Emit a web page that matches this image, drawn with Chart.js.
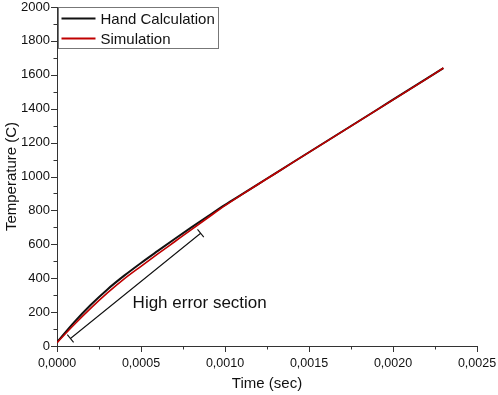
<!DOCTYPE html>
<html>
<head>
<meta charset="utf-8">
<script src="https://cdn.jsdelivr.net/npm/chart.js@4/dist/chart.umd.min.js"></script>
<style>
html, body { margin: 0; padding: 0; background: #fff; }
#wrap { width: 498px; height: 395px; }
</style>
</head>
<body>
<div id="wrap"><canvas id="myChart"></canvas></div>
<script>
// time in seconds
const timeSec = [0, 0.0001, 0.0002, 0.0003, 0.0004, 0.0005, 0.0006, 0.0007, 0.0008, 0.0009, 0.0010,
    0.0011, 0.0012, 0.0013, 0.0014, 0.0015, 0.0016, 0.0017, 0.0018, 0.0019, 0.0020, 0.0021, 0.0022, 0.0023];
const handCalc = [22, 138, 242, 334, 415, 490, 561, 631, 700, 767, 833,
    895, 957, 1019, 1081, 1143, 1205, 1267, 1329, 1391, 1453, 1515, 1577, 1639];
const simulation = [20, 124, 222, 313, 396, 470, 543, 615, 687, 758, 828,
    893, 956, 1018, 1080, 1142, 1204, 1266, 1328, 1390, 1452, 1514, 1576, 1640];

const xTicks = [0, 0.0005, 0.0010, 0.0015, 0.0020, 0.0025];
const yTicks = [0, 200, 400, 600, 800, 1000, 1200, 1400, 1600, 1800, 2000];

// "High error section" bracket (time, temperature)
const bracketFrom = [0.00008, 44];
const bracketTo = [0.000855, 665];
const noteText = "High error section";
const notePos = [0.00045, 223];

const FONT = "'Liberation Sans', Arial, sans-serif";

function toPoints(xs, ys) {
    var result = [];
    for (var i = 0; i < xs.length; i++) result[i] = { x: xs[i], y: ys[i] };
    return result;
}

const extras = {
    id: "extras",
    afterDraw(chart) {
        const ctx = chart.ctx;
        const xs = chart.scales.x;
        const ys = chart.scales.y;
        const area = chart.chartArea;
        ctx.save();

        // major + minor ticks, outside
        ctx.strokeStyle = "#333";
        ctx.lineWidth = 1;
        ctx.beginPath();
        for (let i = 0; i < xTicks.length; i++) {
            let px = Math.round(xs.getPixelForValue(xTicks[i])) + 0.5;
            ctx.moveTo(px, area.bottom); ctx.lineTo(px, area.bottom + 6);
            if (i < xTicks.length - 1) {
                let mx = Math.round(xs.getPixelForValue((xTicks[i] + xTicks[i + 1]) / 2)) + 0.5;
                ctx.moveTo(mx, area.bottom); ctx.lineTo(mx, area.bottom + 3.5);
            }
        }
        for (let i = 0; i < yTicks.length; i++) {
            let py = Math.round(ys.getPixelForValue(yTicks[i])) + 0.5;
            ctx.moveTo(area.left, py); ctx.lineTo(area.left - 6, py);
            if (i < yTicks.length - 1) {
                let my = Math.round(ys.getPixelForValue((yTicks[i] + yTicks[i + 1]) / 2)) + 0.5;
                ctx.moveTo(area.left, my); ctx.lineTo(area.left - 3.5, my);
            }
        }
        ctx.stroke();

        // bracket
        const x1 = xs.getPixelForValue(bracketFrom[0]), y1 = ys.getPixelForValue(bracketFrom[1]);
        const x2 = xs.getPixelForValue(bracketTo[0]), y2 = ys.getPixelForValue(bracketTo[1]);
        const len = Math.hypot(x2 - x1, y2 - y1);
        const nx = -(y2 - y1) / len * 5, ny = (x2 - x1) / len * 5;
        ctx.strokeStyle = "#111";
        ctx.lineWidth = 1.1;
        ctx.beginPath();
        ctx.moveTo(x1, y1); ctx.lineTo(x2, y2);
        ctx.moveTo(x1 - nx, y1 - ny); ctx.lineTo(x1 + nx, y1 + ny);
        ctx.moveTo(x2 - nx, y2 - ny); ctx.lineTo(x2 + nx, y2 + ny);
        ctx.stroke();

        ctx.fillStyle = "#111";
        ctx.font = "17px " + FONT;
        ctx.textAlign = "left";
        ctx.textBaseline = "alphabetic";
        ctx.fillText(noteText, xs.getPixelForValue(notePos[0]), ys.getPixelForValue(notePos[1]));

        // legend box
        const lx = area.left + 1.5, ly = area.top + 0.5, lw = 160, lh = 41;
        ctx.fillStyle = "#fff";
        ctx.fillRect(lx, ly, lw, lh);
        ctx.strokeStyle = "#777";
        ctx.lineWidth = 1;
        ctx.strokeRect(lx, ly, lw, lh);
        ctx.font = "15px " + FONT;
        ctx.textBaseline = "middle";
        chart.data.datasets.forEach(function(ds, i) {
            let yy = ly + 11 + i * 20;
            ctx.strokeStyle = ds.borderColor;
            ctx.lineWidth = 2;
            ctx.beginPath();
            ctx.moveTo(lx + 3, yy); ctx.lineTo(lx + 37, yy);
            ctx.stroke();
            ctx.fillStyle = "#111";
            ctx.fillText(ds.label, lx + 42, yy + 1);
        });
        ctx.restore();
    }
};

const ctx = document.getElementById("myChart").getContext("2d");
const myChart = new Chart(ctx, {
    type: "line",
    data: {
        datasets: [{
            label: "Hand Calculation",
            data: toPoints(timeSec, handCalc),
            borderColor: "#111111",
            borderWidth: 2,
            pointRadius: 0,
            cubicInterpolationMode: "monotone",
            order: 2,
        }, {
            label: "Simulation",
            data: toPoints(timeSec, simulation),
            borderColor: "#c00000",
            borderWidth: 1.6,
            pointRadius: 0,
            cubicInterpolationMode: "monotone",
            order: 1,
        }],
    },
    options: {
        responsive: true,
        maintainAspectRatio: false,
        animation: false,
        layout: { padding: { left: 0, right: 21, top: 7, bottom: 0 } },
        plugins: {
            legend: { display: false },
            tooltip: { enabled: false },
        },
        scales: {
            x: {
                type: "linear",
                min: 0,
                max: 0.0025,
                afterFit: function(s) { s.height = 49; s.paddingLeft = 0; s.paddingRight = 0; },
                afterBuildTicks: function(s) { s.ticks = xTicks.map(v => ({ value: v })); },
                grid: { display: false },
                border: { display: true, color: "#333", width: 1 },
                ticks: {
                    padding: 2,
                    color: "#111",
                    font: { family: FONT, size: 12.5 },
                    maxRotation: 0,
                    callback: function(v) { return v.toFixed(4).replace(".", ","); },
                },
                title: {
                    display: true,
                    text: "Time (sec)",
                    color: "#111",
                    font: { family: FONT, size: 15 },
                    padding: { top: 0, bottom: 2 },
                },
            },
            y: {
                min: 0,
                max: 2000,
                afterFit: function(s) { s.width = 57; s.paddingTop = 0; s.paddingBottom = 0; },
                afterBuildTicks: function(s) { s.ticks = yTicks.map(v => ({ value: v })); },
                grid: { display: false },
                border: { display: true, color: "#333", width: 1 },
                ticks: {
                    padding: -1,
                    color: "#111",
                    font: { family: FONT, size: 13 },
                    callback: function(v) { return String(v); },
                },
                title: {
                    display: true,
                    text: "Temperature (C)",
                    color: "#111",
                    font: { family: FONT, size: 15 },
                    padding: { top: 3, bottom: 0 },
                },
            },
        },
    },
    plugins: [extras],
});
</script>
</body>
</html>
